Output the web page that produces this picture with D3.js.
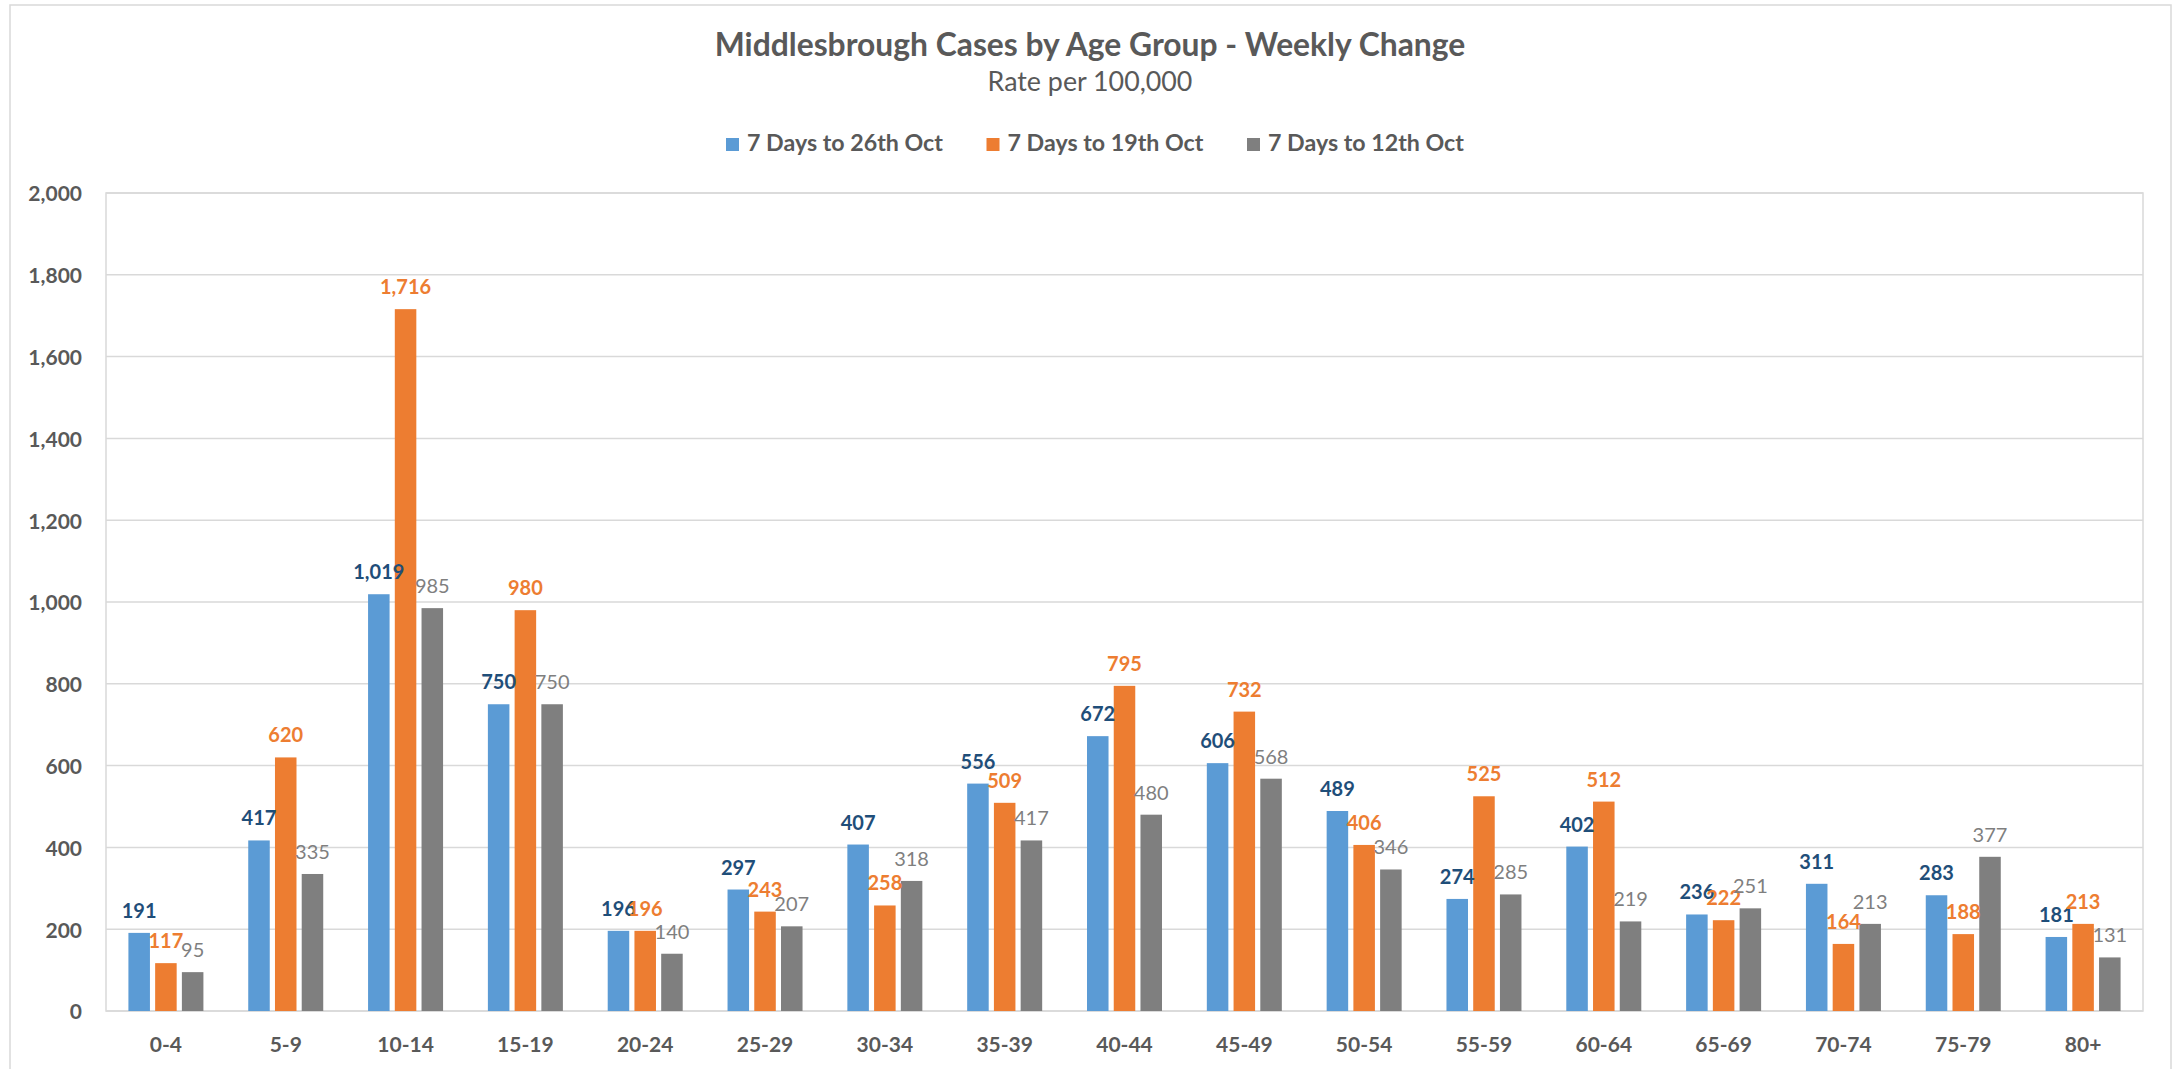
<!DOCTYPE html>
<html>
<head>
<meta charset="utf-8">
<script src="https://cdn.jsdelivr.net/npm/d3@7"></script>
<style>
  body { margin: 0; background: #fff; }
  svg { display: block; font-family: Lato, "Open Sans", sans-serif; }
</style>
</head>
<body>
<div id="chart"></div>
<script>
///////// chart data //////////
const ageGroups = ["0-4", "5-9", "10-14", "15-19", "20-24", "25-29", "30-34", "35-39", "40-44",
  "45-49", "50-54", "55-59", "60-64", "65-69", "70-74", "75-79", "80+"];
const seriesNames = ["7 Days to 26th Oct", "7 Days to 19th Oct", "7 Days to 12th Oct"];
const oct26 = [191, 417, 1019, 750, 196, 297, 407, 556, 672, 606, 489, 274, 402, 236, 311, 283, 181];
const oct19 = [117, 620, 1716, 980, 196, 243, 258, 509, 795, 732, 406, 525, 512, 222, 164, 188, 213];
const oct12 = [95, 335, 985, 750, 140, 207, 318, 417, 480, 568, 346, 285, 219, 251, 213, 377, 131];
const yTicks = [0, 200, 400, 600, 800, 1000, 1200, 1400, 1600, 1800, 2000];

const barColors = ["#5B9BD5", "#ED7D31", "#7F7F7F"];
const labelColors = ["#1F4E79", "#ED7D31", "#7F7F7F"];
const labelWeights = ["bold", "bold", "normal"];

////////////////////// layout //////////////////////
const W = 2179, H = 1069;
const plot = {left: 106, right: 2143, top: 193, bottom: 1011};
const gridColor = "#D9D9D9";
const textColor = "#595959";

let svg = d3.select("#chart").append("svg")
  .attr("width", W)
  .attr("height", H);

// outer chart border
svg.append("rect")
  .attr("x", 10).attr("y", 5)
  .attr("width", 2161).attr("height", 1100)
  .attr("fill", "none")
  .attr("stroke", gridColor)
  .attr("stroke-width", 1.5);

// scales
let x0 = d3.scaleBand()
  .domain(ageGroups)
  .range([plot.left, plot.right])
  .padding(0);
let groupW = 75;
let x1 = d3.scaleBand()
  .domain(d3.range(3))
  .range([(x0.bandwidth() - groupW) / 2, (x0.bandwidth() + groupW) / 2])
  .paddingInner(0.195);
let y = d3.scaleLinear()
  .domain([0, 2000])
  .range([plot.bottom, plot.top]);

// gridlines
svg.append("g")
  .selectAll("line")
  .data(yTicks)
  .enter()
  .append("line")
  .attr("x1", plot.left).attr("x2", plot.right)
  .attr("y1", d => y(d)).attr("y2", d => y(d))
  .attr("stroke", gridColor)
  .attr("stroke-width", 1.5);

// plot area border
svg.append("rect")
  .attr("x", plot.left).attr("y", plot.top)
  .attr("width", plot.right - plot.left).attr("height", plot.bottom - plot.top)
  .attr("fill", "none")
  .attr("stroke", gridColor)
  .attr("stroke-width", 1.5);

// y axis labels
let yAxis = svg.append("g")
  .attr("transform", "translate(" + (plot.left - 24) + ",0)")
  .call(d3.axisLeft(y).tickValues(yTicks).tickFormat(d3.format(",")).tickSize(0).tickPadding(0));
yAxis.select(".domain").remove();
yAxis.selectAll("text")
  .attr("font-family", "Lato, sans-serif")
  .attr("font-size", 21)
  .attr("font-weight", "bold")
  .attr("fill", textColor)
  .attr("dy", "0.38em");

// x axis labels
let xAxis = svg.append("g")
  .attr("transform", "translate(0," + plot.bottom + ")")
  .call(d3.axisBottom(x0).tickSize(0).tickPadding(0));
xAxis.select(".domain").remove();
xAxis.selectAll("text")
  .attr("font-family", "Lato, sans-serif")
  .attr("font-size", 21)
  .attr("font-weight", "bold")
  .attr("fill", textColor)
  .attr("dy", 0)
  .attr("y", 41);

// bars
let seriesValues = [oct26, oct19, oct12];
let barData = [];
ageGroups.forEach((g, i) => {
  for (let s = 0; s < 3; s++) barData.push({group: g, s: s, v: seriesValues[s][i]});
});

svg.append("g")
  .selectAll("rect")
  .data(barData)
  .enter()
  .append("rect")
  .attr("x", d => x0(d.group) + x1(d.s))
  .attr("y", d => y(d.v))
  .attr("width", x1.bandwidth())
  .attr("height", d => y(0) - y(d.v))
  .attr("fill", d => barColors[d.s]);

// data labels
svg.append("g")
  .selectAll("text")
  .data(barData)
  .enter()
  .append("text")
  .attr("x", d => x0(d.group) + x1(d.s) + x1.bandwidth() / 2)
  .attr("y", d => y(d.v) - 15)
  .attr("text-anchor", "middle")
  .attr("font-size", 20)
  .attr("font-weight", d => labelWeights[d.s])
  .attr("fill", d => labelColors[d.s])
  .text(d => d3.format(",")(d.v));

// fit a text element to a target width
function fitText(sel, target) {
  let w = sel.node().getComputedTextLength();
  let fs = parseFloat(sel.attr("font-size"));
  if (w > 0) sel.attr("font-size", fs * target / w);
}

// titles
let cx = 1090;
let title = svg.append("text")
  .attr("x", cx).attr("y", 56)
  .attr("text-anchor", "middle")
  .attr("font-size", 26)
  .attr("font-weight", "bold")
  .attr("fill", textColor)
  .text("Middlesbrough Cases by Age Group - Weekly Change");
fitText(title, 751);

let subtitle = svg.append("text")
  .attr("x", cx).attr("y", 91)
  .attr("text-anchor", "middle")
  .attr("font-size", 20)
  .attr("fill", textColor)
  .text("Rate per 100,000");
fitText(subtitle, 205);

// legend
let legend = svg.append("g");
seriesNames.forEach((name, i) => {
  let lx = 726 + i * 260.5;
  legend.append("rect")
    .attr("x", lx).attr("y", 138)
    .attr("width", 13).attr("height", 13)
    .attr("fill", barColors[i]);
  let t = legend.append("text")
    .attr("x", lx + 21).attr("y", 150.5)
    .attr("font-size", 20)
    .attr("font-weight", "bold")
    .attr("fill", textColor)
    .text(name);
  fitText(t, 196);
});
</script>
</body>
</html>
